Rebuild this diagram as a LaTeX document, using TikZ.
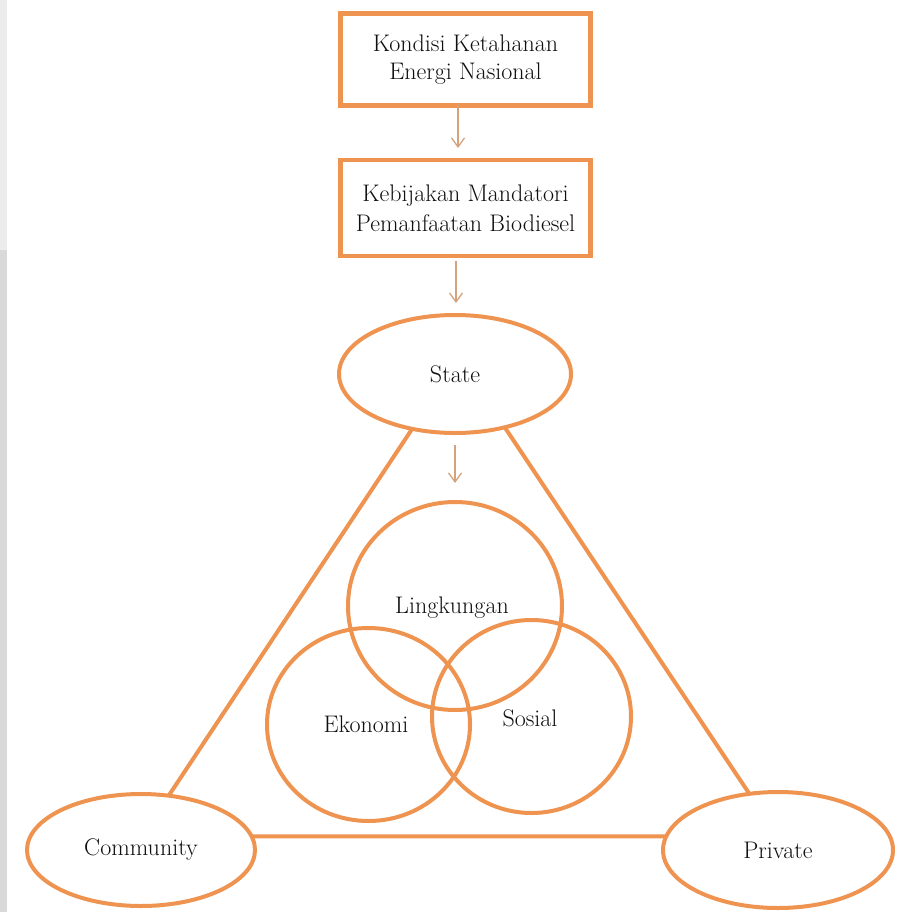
\documentclass[tikz,border=0pt]{standalone}
\usetikzlibrary{shapes.geometric,arrows.meta}

\definecolor{ora}{RGB}{238,148,80}
\definecolor{tanline}{RGB}{212,162,124}
\definecolor{stripe}{RGB}{217,217,217}
\definecolor{stripelight}{RGB}{236,236,236}
\definecolor{ink}{RGB}{15,15,15}

\begin{document}
\begin{tikzpicture}[x=1pt,y=-1pt,
  every node/.style={font=\fontsize{24}{28}\selectfont, align=center, text=ink},
  boxnode/.style={draw=ora, line width=4.5pt, rectangle, minimum width=250pt,
                  inner sep=0pt, outer sep=0pt},
  oval/.style={draw=ora, line width=4pt, ellipse, inner sep=0pt, outer sep=0pt},
  link/.style={draw=ora, line width=4pt},
  arr/.style={draw=tanline, line width=1.3pt, -{Straight Barb[length=9pt,width=13pt]}}]

  % canvas
  \useasboundingbox (0,0) rectangle (901,912);
  \fill[white] (0,0) rectangle (901,912);
  \fill[stripe] (0,0) rectangle (7,912);
  \fill[stripelight] (0,0) rectangle (7,250);

  % top boxes
  \node[boxnode, minimum height=92pt] (box1) at (465.5,59.5)
    {Kondisi Ketahanan\\Energi Nasional};
  \node[boxnode, minimum height=96pt] (box2) at (465.5,208)
    {Kebijakan Mandatori\\[2pt]Pemanfaatan Biodiesel};

  % actors
  \node[oval, minimum width=232pt, minimum height=118pt] (state) at (455,374) {State};
  \node[oval, minimum width=228pt, minimum height=112pt] (community) at (141,850) {Community};
  \node[oval, minimum width=230pt, minimum height=116pt] (private) at (778,850) {Private};

  % sustainability circles
  \node[oval, minimum width=214pt, minimum height=208pt] (lingkungan) at (455,606) {};
  \node[oval, minimum width=203pt, minimum height=193pt] (ekonomi) at (368.5,724.5) {};
  \node[oval, minimum width=199pt, minimum height=193pt] (sosial) at (531.5,716.5) {};
  \node (tLing) at (452,608) {Lingkungan};
  \node (tEko) at (366,724) {Ekonomi};
  \node (tSos) at (530,718) {Sosial};

  % triangle between actors
  \draw[link] (state.232) -- (community.63);
  \draw[link] (state.313) -- (private.117);
  \draw[link] (community.7) -- (private.173);

  % flow arrows
  \draw[arr, shorten >=12pt] ([xshift=-7.5pt]box1.south) -- ([xshift=-7.5pt]box2.north);
  \draw[arr, shorten <=5pt, shorten >=12pt]
    ([xshift=-9.5pt]box2.south) -- ([xshift=-9.5pt]box2.south |- state.north);
  \draw[arr, shorten <=12pt, shorten >=19pt]
    (lingkungan.north |- state.south) -- (lingkungan.north);
\end{tikzpicture}
\end{document}
